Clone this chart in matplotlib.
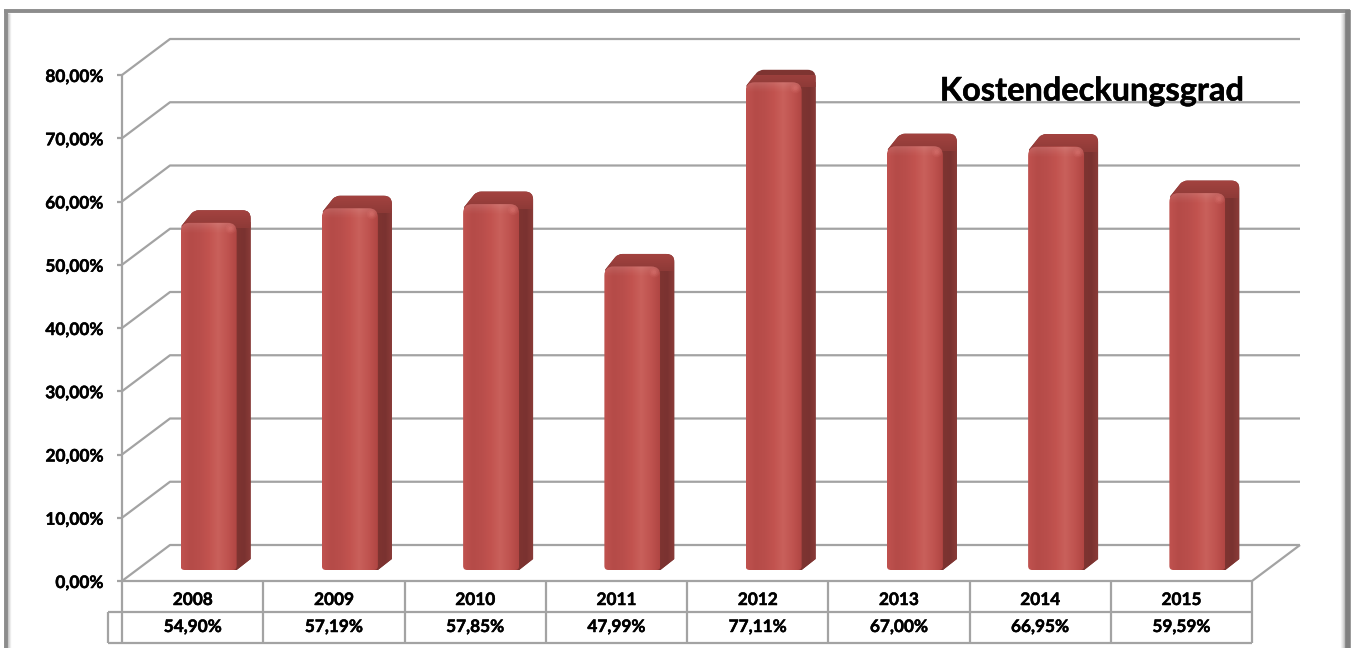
# _*_ coding: utf-8 _*_

import numpy as np
import matplotlib
matplotlib.use('Agg')
import matplotlib.pyplot as plt
import matplotlib.patheffects as pe
from matplotlib.colors import LinearSegmentedColormap
from matplotlib.patches import Circle, PathPatch
from matplotlib.path import Path
from matplotlib.transforms import IdentityTransform

years = ["2008", "2009", "2010", "2011", "2012", "2013", "2014", "2015"]
values = [54.90, 57.19, 57.85, 47.99, 77.11, 67.00, 66.95, 59.59]
labels = ["54,90%", "57,19%", "57,85%", "47,99%", "77,11%", "67,00%", "66,95%", "59,59%"]
y_ticks = [0, 10, 20, 30, 40, 50, 60, 70, 80]
y_labels = ["0,00%", "10,00%", "20,00%", "30,00%", "40,00%", "50,00%", "60,00%", "70,00%", "80,00%"]

W, H = 1354, 648
plt.rcParams["font.family"] = ["Lato", "DejaVu Sans"]
GRID = "#a3a3a3"
DX, DY = 48, 36          # Tiefe der Rueckwand in Pixel
BAR_DX, BAR_DY = 17, 11  # Versatz der Saeule im Boden
SIDE_DX, SIDE_DY = 14, 11
BAR_W = 56
ROW = 31
BOLD = [pe.withStroke(linewidth=0.35, foreground="black")]


def rounded(x0, y0, x1, y1, r_top, r_bottom=4):
    """Rechteck mit runden Ecken, Pixelkoordinaten"""
    verts = [(x0 + r_bottom, y0), (x1 - r_bottom, y0), (x1, y0), (x1, y0 + r_bottom), (x1, y1 - r_top),
             (x1, y1), (x1 - r_top, y1), (x0 + r_top, y1), (x0, y1), (x0, y1 - r_top),
             (x0, y0 + r_bottom), (x0, y0), (x0 + r_bottom, y0), (x0 + r_bottom, y0)]
    codes = [Path.MOVETO, Path.LINETO, Path.CURVE3, Path.CURVE3, Path.LINETO, Path.CURVE3, Path.CURVE3,
             Path.LINETO, Path.CURVE3, Path.CURVE3, Path.LINETO, Path.CURVE3, Path.CURVE3, Path.CLOSEPOLY]
    return Path(verts, codes)


def body(x0, y0, x1, y1):
    """Umriss von Seite und Deckel"""
    dx, dy = SIDE_DX, SIDE_DY
    r = 8
    top = y1 + dy + 1.5
    verts = [(x1 - 10, y0), (x1, y0), (x1 + dx, y0 + dy), (x1 + dx, top - r), (x1 + dx, top),
             (x1 + dx - r, top), (x0 + 18, top), (x0 + 14, top), (x0 + 11, top - 3),
             (x0 + 1, y1 - 3), (x1 - 10, y0)]
    codes = [Path.MOVETO, Path.LINETO, Path.LINETO, Path.LINETO, Path.CURVE3, Path.CURVE3, Path.LINETO,
             Path.CURVE3, Path.CURVE3, Path.LINETO, Path.CLOSEPOLY]
    return Path(verts, codes)


fig = plt.figure(figsize=(W / 100, H / 100), dpi=100, facecolor="white")
ax = fig.add_axes([122 / W, (H - 581) / H, 1130 / W, 506 / H])
ax.set_xlim(0, len(years))
ax.set_ylim(0, 80)
ax.axis("off")
pix = IdentityTransform()


def line(xs, ys, color=GRID, lw=1.6, zorder=1):
    ax.plot(xs, ys, color=color, lw=lw, transform=pix, clip_on=False, zorder=zorder,
            solid_capstyle="butt")


x_left = ax.transData.transform((0, 0))[0]
x_right = ax.transData.transform((len(years), 0))[0]
y_zero = ax.transData.transform((0, 0))[1]
y_top = ax.transData.transform((0, 80))[1]

# Gitterlinien und Achse
for tick, label in zip(y_ticks, y_labels):
    py = ax.transData.transform((0, tick))[1]
    line([x_left, x_left + DX, x_right + DX], [py, py + DY, py + DY])
    line([x_left - 5, x_left], [py, py])
    ax.text(x_left - 19, py - 2, label, transform=pix, ha="right", va="center",
            fontsize=12.4, fontweight="bold", color="black", path_effects=BOLD)
line([x_left, x_left], [y_zero, y_top])
line([x_left, x_right, x_right + DX], [y_zero, y_zero, y_zero + DY])

# Saeulen
face_cmap = LinearSegmentedColormap.from_list(
    "face", ["#c0524f", "#b54b48", "#b94e4b", "#c2534f", "#c9605b", "#c05450", "#b04643"])
side_cmap = LinearSegmentedColormap.from_list("side", ["#8c3a37", "#7e3431", "#7a3230", "#8a3b38"])
cover_cmap = LinearSegmentedColormap.from_list("cover", ["#8e3a37", "#a64441"])
grad = np.linspace(0, 1, 128).reshape(1, -1)
grad_v = np.linspace(0, 1, 32).reshape(-1, 1)
shine = np.zeros((32, 1, 4))
shine[:, 0, :3] = 1.0
shine[:, 0, 3] = np.linspace(0.14, 0, 32) ** 1.5 * 2.5
for i, value in enumerate(values):
    cx, top = ax.transData.transform((i + 0.5, value))
    x0 = cx + BAR_DX - BAR_W / 2 - 1
    x1 = x0 + BAR_W
    y0 = y_zero + BAR_DY
    y1 = top + BAR_DY

    # Seite und Deckel
    outline = PathPatch(body(x0, y0, x1, y1), facecolor="#7e3431", edgecolor="none",
                        transform=pix, clip_on=False, zorder=3)
    ax.add_patch(outline)
    im_side = ax.imshow(grad, cmap=side_cmap, extent=[x1 - 6, x1 + SIDE_DX, y0, y1],
                        transform=pix, aspect="auto", zorder=3.1)
    im_side.set_clip_path(outline)
    im_cover = ax.imshow(grad_v, cmap=cover_cmap, origin="lower",
                         extent=[x0, x1 + SIDE_DX, y1 - 5, y1 + SIDE_DY + 4],
                         transform=pix, aspect="auto", zorder=3.2)
    im_cover.set_clip_path(outline)

    # Vorderseite mit Verlauf
    face = PathPatch(rounded(x0, y0, x1, y1, 9), facecolor="none", edgecolor="none",
                     transform=pix, clip_on=False, zorder=5)
    ax.add_patch(face)
    im = ax.imshow(grad, cmap=face_cmap, extent=[x0, x1, y0, y1], transform=pix,
                   aspect="auto", zorder=5)
    im.set_clip_path(face)
    im_shine = ax.imshow(shine, extent=[x0, x1, y1 - 12, y1], transform=pix,
                         aspect="auto", zorder=5.1)
    im_shine.set_clip_path(face)
    for radius, alpha in zip([5, 3.5, 2], [0.08, 0.1, 0.12]):
        ax.add_patch(Circle((x1 - 6, y1 - 6), radius, facecolor="#ff9a94", edgecolor="none",
                            alpha=alpha, transform=pix, clip_on=False, zorder=5.2))

ax.set_xlim(0, len(years))
ax.set_ylim(0, 80)

# Datentabelle
y_row1 = y_zero - ROW
y_row2 = y_zero - 2 * ROW
for i in range(len(years) + 1):
    px = ax.transData.transform((i, 0))[0]
    line([px, px], [y_zero, y_row2])
line([x_left - 14, x_right], [y_row1, y_row1])
line([x_left - 14, x_right], [y_row2, y_row2])
line([x_left - 14, x_left - 14], [y_row1, y_row2])
for i, (year, label) in enumerate(zip(years, labels)):
    px = ax.transData.transform((i + 0.5, 0))[0]
    ax.text(px, y_zero - 19, year, transform=pix, ha="center", va="center",
            fontsize=12.4, fontweight="bold", color="black", path_effects=BOLD)
    ax.text(px, y_zero - 46, label, transform=pix, ha="center", va="center",
            fontsize=12.4, fontweight="bold", color="black", path_effects=BOLD)

ax.text(1092, H - 91, "Kostendeckungsgrad", transform=pix, ha="center", va="center",
        fontsize=23.4, fontweight="bold", color="black", zorder=8, path_effects=BOLD)

# Rahmen
line([5.5, 5.5], [0, H - 10], color="#8c8c8c", lw=2.8, zorder=9)
line([4, 1350], [H - 11, H - 11], color="#8c8c8c", lw=2.8, zorder=9)
line([1348, 1348], [0, H - 10], color="#808080", lw=4, zorder=9)
for k, alpha in enumerate([0.55, 0.4, 0.25, 0.15, 0.08]):
    line([1344.5 - k, 1344.5 - k], [0, H - 13], color="#808080", lw=1, zorder=9)
    ax.lines[-1].set_alpha(alpha)
for k, alpha in enumerate([0.4, 0.2, 0.1]):
    line([8 + k, 8 + k], [0, H - 13], color="#808080", lw=1, zorder=9)
    ax.lines[-1].set_alpha(alpha)

fig.savefig("out.png", dpi=100)
